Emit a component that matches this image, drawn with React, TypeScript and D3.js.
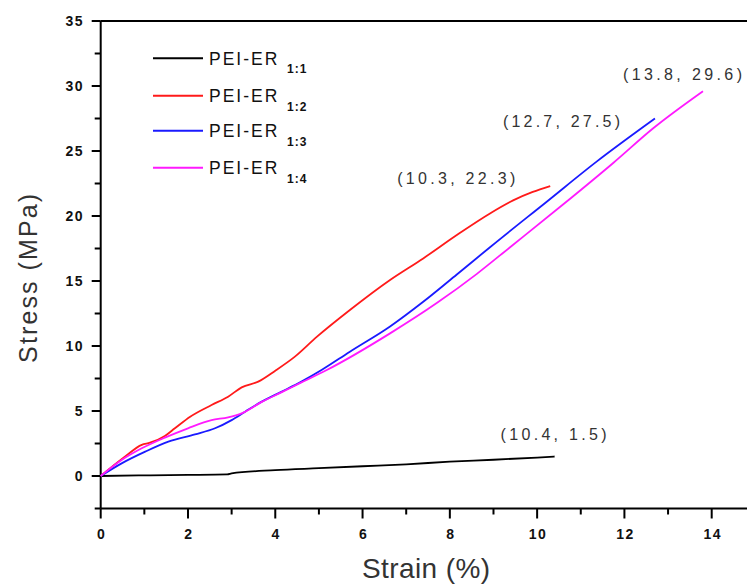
import { useEffect, useRef } from "react";
import * as d3 from "d3";

// stress-strain curves (strain %, stress MPa)
const strain11 = [0, 1, 2, 2.9, 3.0, 4, 5, 6, 7, 8, 9, 10, 10.4];
const stress11 = [0, 0.05, 0.08, 0.12, 0.2, 0.45, 0.6, 0.75, 0.9, 1.1, 1.25, 1.42, 1.5];

const strain12 = [0, 0.56, 0.94, 1.13, 1.47, 1.7, 2.05, 2.54, 2.92, 3.23, 3.61, 4.0, 4.45, 4.95, 5.71, 6.63, 7.39, 8.16, 8.92, 9.45, 9.9, 10.3];
const stress12 = [0, 1.5, 2.4, 2.56, 3.08, 3.67, 4.56, 5.46, 6.1, 6.82, 7.26, 8.1, 9.18, 10.7, 12.77, 15.08, 16.74, 18.54, 20.2, 21.2, 21.85, 22.3];

const strain13 = [0, 0.48, 1.02, 1.55, 2.16, 2.62, 3.0, 3.31, 3.69, 4.15, 4.6, 5.06, 5.71, 6.63, 7.39, 8.16, 8.92, 10.22, 11.37, 12.7];
const stress13 = [0, 0.97, 1.87, 2.64, 3.2, 3.67, 4.3, 4.95, 5.72, 6.49, 7.26, 8.15, 9.56, 11.5, 13.4, 15.5, 17.6, 21.1, 24.2, 27.5];

const strain14 = [0, 0.48, 0.94, 1.47, 2.0, 2.54, 2.92, 3.23, 3.69, 4.15, 4.6, 5.18, 6.63, 7.7, 8.62, 9.38, 10.6, 11.75, 12.66, 13.8];
const stress14 = [0, 1.23, 2.13, 2.95, 3.67, 4.3, 4.51, 4.82, 5.7, 6.45, 7.2, 8.15, 10.97, 13.3, 15.55, 17.6, 20.9, 24.1, 26.75, 29.6];

const seriesNames = ["1:1", "1:2", "1:3", "1:4"];
const seriesColors = ["#000000", "#ff1a1a", "#1a1aff", "#ff1aff"];
const endLabels = ["(10.4, 1.5)", "(10.3, 22.3)", "(12.7, 27.5)", "(13.8, 29.6)"];

const xTicks = [0, 2, 4, 6, 8, 10, 12, 14];
const yTicks = [0, 5, 10, 15, 20, 25, 30, 35];

export default function App() {
  const ref = useRef<SVGSVGElement>(null);

  useEffect(() => {
    const svg = d3.select(ref.current);
    svg.selectAll("*").remove();

    const x = d3.scaleLinear().domain([0, 14]).range([100.7, 711.7]);
    const y = d3.scaleLinear().domain([-2.5, 35]).range([508.5, 21]);

    const series = [
      strain11.map((s, i) => [s, stress11[i]]),
      strain12.map((s, i) => [s, stress12[i]]),
      strain13.map((s, i) => [s, stress13[i]]),
      strain14.map((s, i) => [s, stress14[i]]),
    ];

    // frame: left axis, top and bottom lines running off the right edge
    const frame = svg.append("g").attr("stroke", "#000").attr("stroke-width", 2);
    frame.append("line").attr("x1", x(0)).attr("x2", x(0)).attr("y1", y(35)).attr("y2", y(-2.5));
    frame.append("line").attr("x1", x(0)).attr("x2", 760).attr("y1", y(35)).attr("y2", y(35));
    frame.append("line").attr("x1", x(0)).attr("x2", 760).attr("y1", y(-2.5)).attr("y2", y(-2.5));

    // y ticks
    const yMinor = d3.range(-2.5, 35, 5);
    frame.selectAll(".ymaj").data(yTicks).join("line")
      .attr("x1", x(0) - 9).attr("x2", x(0))
      .attr("y1", (d) => y(d)).attr("y2", (d) => y(d));
    frame.selectAll(".ymin").data(yMinor).join("line")
      .attr("x1", x(0) - 6).attr("x2", x(0))
      .attr("y1", (d) => y(d)).attr("y2", (d) => y(d));

    // x ticks
    const xMinor = d3.range(1, 15, 2);
    frame.selectAll(".xmaj").data(xTicks).join("line")
      .attr("x1", (d) => x(d)).attr("x2", (d) => x(d))
      .attr("y1", y(-2.5)).attr("y2", y(-2.5) + 10);
    frame.selectAll(".xmin").data(xMinor).join("line")
      .attr("x1", (d) => x(d)).attr("x2", (d) => x(d))
      .attr("y1", y(-2.5)).attr("y2", y(-2.5) + 6);

    const tickFont = (sel: any) =>
      sel.attr("font-family", "Liberation Sans, Arial, sans-serif")
        .attr("font-weight", "bold").attr("font-size", 14).attr("fill", "#111");

    svg.append("g").selectAll("text").data(yTicks).join("text")
      .call(tickFont)
      .attr("x", 84).attr("y", (d) => y(d) + 5)
      .attr("text-anchor", "end").attr("letter-spacing", 1.5)
      .text((d) => d);

    svg.append("g").selectAll("text").data(xTicks).join("text")
      .call(tickFont)
      .attr("x", (d) => x(d) + 1).attr("y", 539)
      .attr("text-anchor", "middle").attr("letter-spacing", 1.5)
      .text((d) => d);

    // curves
    const line = d3.line<number[]>()
      .x((d) => x(d[0])).y((d) => y(d[1]))
      .curve(d3.curveMonotoneX);
    svg.append("g").selectAll("path").data(series).join("path")
      .attr("d", (d) => line(d))
      .attr("fill", "none")
      .attr("stroke", (d, i) => seriesColors[i])
      .attr("stroke-width", 1.8)
      .attr("stroke-linejoin", "round");

    // end point labels
    const offsets = [[-54, -17], [-153, -2.5], [-152, 8], [-80, -11.6]];
    const lens = [106, 118, 117, 119];
    svg.append("g").selectAll("text").data(series).join("text")
      .attr("x", (d, i) => x(d[d.length - 1][0]) + offsets[i][0])
      .attr("y", (d, i) => y(d[d.length - 1][1]) + offsets[i][1])
      .attr("font-family", "Liberation Sans, Arial, sans-serif")
      .attr("font-size", 16).attr("fill", "#333")
      .attr("textLength", (d, i) => lens[i]).attr("lengthAdjust", "spacing")
      .text((d, i) => endLabels[i]);

    // legend
    const legendY = [58.3, 95.7, 130.7, 167.7];
    const lg = svg.append("g").selectAll("g").data(seriesNames).join("g")
      .attr("transform", (d, i) => `translate(0,${legendY[i]})`);
    lg.append("line")
      .attr("x1", 153).attr("x2", 203).attr("y1", 0).attr("y2", 0)
      .attr("stroke", (d, i) => seriesColors[i]).attr("stroke-width", 2);
    lg.append("text")
      .attr("x", 209).attr("y", 6.7)
      .attr("font-family", "Liberation Sans, Arial, sans-serif")
      .attr("font-size", 17.5).attr("letter-spacing", 2).attr("fill", "#111")
      .text("PEI-ER");
    lg.append("text")
      .attr("x", 287).attr("y", 15)
      .attr("font-family", "Liberation Sans, Arial, sans-serif")
      .attr("font-size", 12).attr("font-weight", "bold").attr("fill", "#111")
      .attr("letter-spacing", 1)
      .text((d) => d);

    // axis titles
    svg.append("text")
      .attr("transform", `translate(37,${y(15.2)}) rotate(-90)`)
      .attr("text-anchor", "middle")
      .attr("font-family", "Liberation Sans, Arial, sans-serif")
      .attr("font-size", 25).attr("fill", "#333")
      .attr("textLength", 169).attr("lengthAdjust", "spacing")
      .text("Stress (MPa)");

    svg.append("text")
      .attr("x", 426).attr("y", 578)
      .attr("text-anchor", "middle")
      .attr("font-family", "Liberation Sans, Arial, sans-serif")
      .attr("font-size", 28).attr("fill", "#333")
      .attr("textLength", 128).attr("lengthAdjust", "spacing")
      .text("Strain (%)");
  }, []);

  return (
    <svg
      ref={ref}
      width={747}
      height={588}
      style={{ position: "absolute", left: 0, top: 0, background: "#fff" }}
    />
  );
}
